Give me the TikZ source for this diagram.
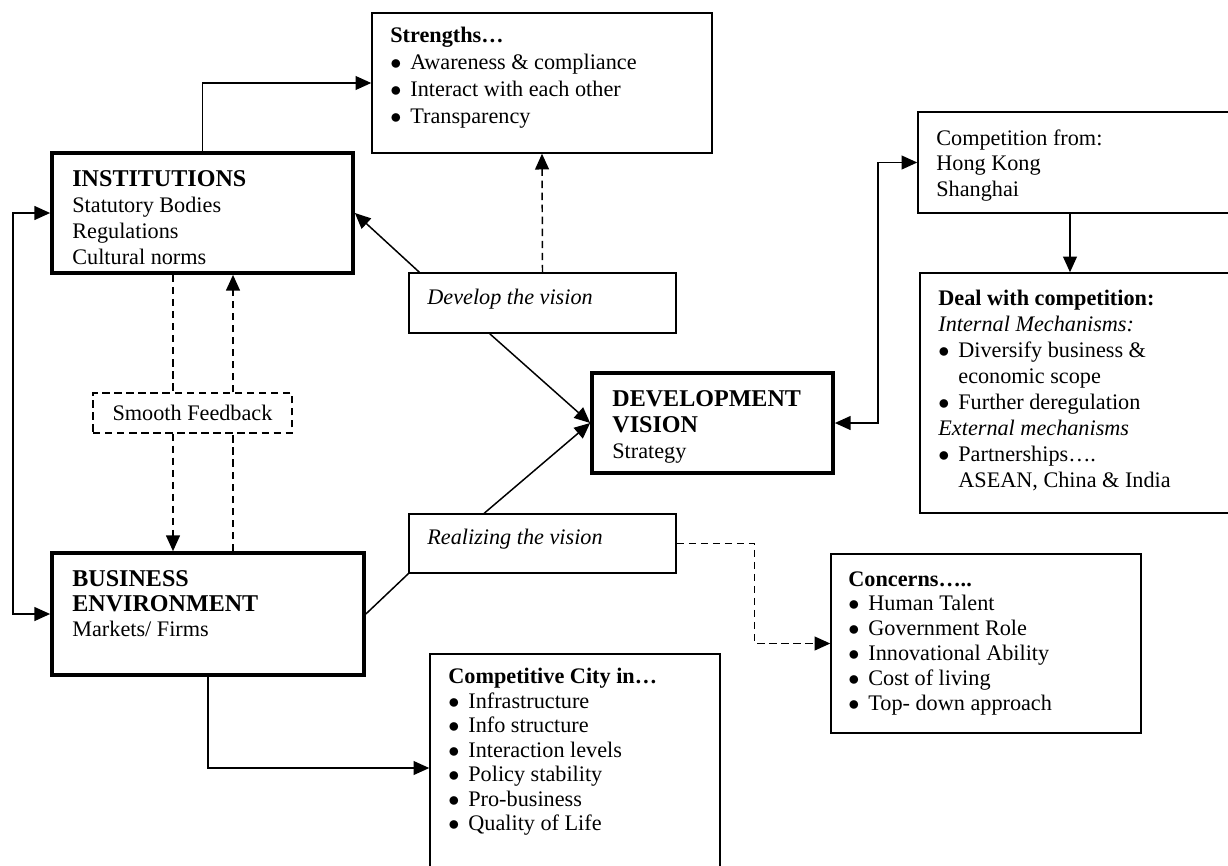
\documentclass[tikz,border=0pt]{standalone}
\usepackage{fontspec}
\setmainfont{Liberation Serif}
\usetikzlibrary{arrows.meta,fit}
\tikzset{
  box/.style={draw, line width=0.8pt, inner sep=0pt},
  tbox/.style={draw, line width=2pt, inner sep=0pt},
  dbox/.style={draw, line width=0.7pt, dash pattern=on 4pt off 2.5pt, inner sep=0pt},
  txt/.style={anchor=north west, inner sep=0pt, align=left},
  conn/.style={line width=0.8pt, -{Triangle[length=8.5pt,width=7.5pt]}},
  dconn/.style={conn, dash pattern=on 4pt off 2.5pt},
  dline/.style={line width=0.8pt, dash pattern=on 4pt off 2.5pt},
  both/.style={line width=0.8pt, {Triangle[length=8.5pt,width=7.5pt]}-{Triangle[length=8.5pt,width=7.5pt]}},
}
\newcommand{\bitem}[1]{\makebox[10.8pt][l]{$\bullet$}#1}
\newcommand{\hd}{\fontsize{13}{14}\selectfont\bfseries}
\begin{document}
\begin{tikzpicture}[x=0.54pt,y=-0.54pt]
\useasboundingbox (0,0) rectangle (1228,865);
% boxes
\node[box,  fit={(372,13) (712,153)}]   (str)  {};
\node[tbox, fit={(52,153) (353,273)}]   (ins)  {};
\node[box,  fit={(409,273) (676,333)}]  (dev)  {};
\node[tbox, fit={(592,373) (833,473)}]  (dv)   {};
\node[box,  fit={(409,514) (676,573)}]  (real) {};
\node[dbox, fit={(93,393) (292,433)}]   (sf)   {};
\node[tbox, fit={(52,553) (364,675)}]   (bus)  {};
\node[box,  fit={(918,112) (1245,213)}] (comp) {};
\node[box,  fit={(920,273) (1245,513)}] (deal) {};
\node[box,  fit={(831,554) (1141,733)}] (con)  {};
\node[box,  fit={(430,654) (720,882)}]  (cc)   {};
% texts
\node[txt, font=\fontsize{12}{14.6}\selectfont] (strT) at (390,27)
  {{\bfseries Strengths\ldots}\\ \bitem{Awareness \& compliance}\\ \bitem{Interact with each other}\\ \bitem{Transparency}};
\node[txt, font=\fontsize{12}{14}\selectfont] (insT) at (72,170)
  {{\hd INSTITUTIONS}\\ Statutory Bodies\\ Regulations\\ Cultural norms};
\node[txt, font=\fontsize{12}{14}\selectfont\itshape] (devT) at (427,289) {Develop the vision};
\node[txt, font=\fontsize{12}{14}\selectfont] (dvT) at (612,390)
  {{\hd DEVELOPMENT}\\ {\hd VISION}\\ Strategy};
\node[txt, font=\fontsize{12}{14}\selectfont\itshape] (realT) at (427,529) {Realizing the vision};
\node[inner sep=0pt, font=\fontsize{12}{14}\selectfont] (sfT) at (sf.center) {Smooth Feedback};
\node[txt, font=\fontsize{12}{13.6}\selectfont] (busT) at (72,570)
  {{\hd BUSINESS}\\ {\hd ENVIRONMENT}\\ Markets/ Firms};
\node[txt, font=\fontsize{12}{13.8}\selectfont] (compT) at (936,129)
  {Competition from:\\ Hong Kong\\ Shanghai};
\node[txt, font=\fontsize{12}{14}\selectfont] (dealT) at (938,290)
  {{\bfseries Deal with competition:}\\ {\itshape Internal Mechanisms:}\\
   \bitem{Diversify business \&}\\ \hspace*{10.8pt}economic scope\\
   \bitem{Further deregulation}\\ {\itshape External mechanisms}\\
   \bitem{Partnerships\ldots.}\\ \hspace*{10.8pt}ASEAN, China \& India};
\node[txt, font=\fontsize{12}{13.4}\selectfont] (conT) at (848,571)
  {{\bfseries Concerns\ldots..}\\ \bitem{Human Talent}\\ \bitem{Government Role}\\
   \bitem{Innovational Ability}\\ \bitem{Cost of living}\\ \bitem{Top- down approach}};
\node[txt, font=\fontsize{12}{13.2}\selectfont] (ccT) at (448,668)
  {{\bfseries Competitive City in\ldots}\\ \bitem{Infrastructure}\\ \bitem{Info structure}\\
   \bitem{Interaction levels}\\ \bitem{Policy stability}\\ \bitem{Pro-business}\\ \bitem{Quality of Life}};
% helper coordinates
\coordinate (a1) at (173,0);
\coordinate (a2) at (233,0);
\coordinate (cx) at (1070,0);
% connectors
\draw[conn] (ins.north) |- (str.west);
\draw[dconn] (dev.north) -- (str.south);
\draw[conn] ([xshift=6pt]dev.north west) -- (ins.east);
\draw[conn] ([xshift=44pt]dev.south west) -- (dv.west);
\draw[conn] ([xshift=41pt]real.north west) -- (dv.west);
\draw[line width=0.8pt] (bus.east) -- (real.south west);
\draw[dconn] (real.east) -- ++(78,0) |- (con.west);
\draw[both] (dv.east) -- ++(43,0) |- (comp.west);
\draw[conn] (comp.south -| cx) -- (deal.north -| cx);
\draw[both] (ins.west) -- ++(-37,0) |- (bus.west);
\draw[dline] (ins.south -| a1) -- (sf.north -| a1);
\draw[dconn] (sf.south -| a1) -- (bus.north -| a1);
\draw[dconn] (sf.north -| a2) -- (ins.south -| a2);
\draw[dline] (bus.north -| a2) -- (sf.south -| a2);
\draw[conn] (bus.south) |- (cc.west);
\end{tikzpicture}
\end{document}
